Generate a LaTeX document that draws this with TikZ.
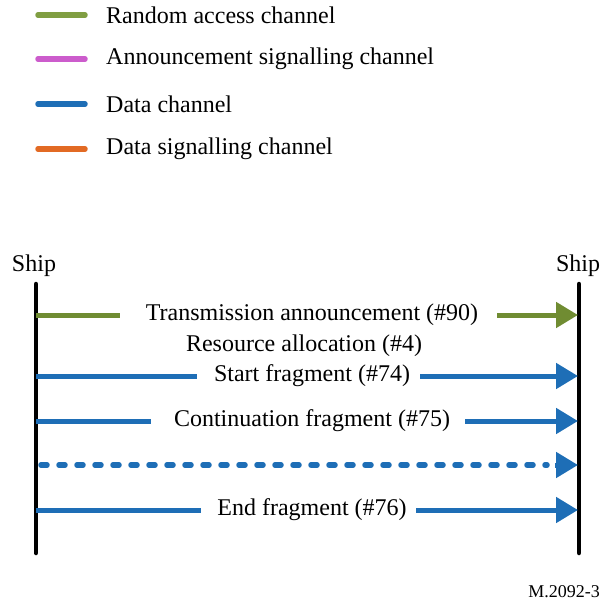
\documentclass[tikz,border=0pt]{standalone}
\usepackage{fontspec}
\setmainfont{Liberation Serif}
\usetikzlibrary{arrows.meta}

\definecolor{rachgreen}{RGB}{112,140,50}
\definecolor{legendgreen}{RGB}{128,158,66}
\definecolor{annpink}{RGB}{204,92,204}
\definecolor{datablue}{RGB}{30,110,182}
\definecolor{sigorange}{RGB}{226,106,36}

\begin{document}
\begin{tikzpicture}[x=1pt, y=-1pt,
  font=\fontsize{24}{28}\selectfont,
  lifeline/.style={line width=4.5pt, line cap=round},
  legline/.style={line width=5.5pt, line cap=round},
  legtext/.style={anchor=west, inner sep=0pt},
  msg/.style={line width=5pt},
  msgtip/.style={msg, -{Triangle[length=22pt, width=25pt]}},
  lbl/.style={inner sep=0pt, anchor=center},
  dotted msg/.style={line width=5.5pt, line cap=round, dash pattern=on 6pt off 12pt}]
\useasboundingbox (0,0) rectangle (600,604);

% legend
\foreach \c/\y/\t [count=\i] in {legendgreen/15/Random access channel,
                                  annpink/59/Announcement signalling channel,
                                  datablue/104/Data channel,
                                  sigorange/149/Data signalling channel}{
  \coordinate (lega\i) at (38,\y);
  \coordinate (legb\i) at (85,\y);
  \draw[legline, draw=\c] (lega\i) -- (legb\i);
  \node[legtext] (legt\i) at (106,\y) {\t};
}

% the two ships and their lifelines
\node (shipL) at (34,266) {Ship};
\node (shipR) at (578,266) {Ship};
\coordinate (topL) at (36,284);
\coordinate (botL) at (36,553);
\coordinate (topR) at (579,284);
\coordinate (botR) at (579,553);
\draw[lifeline] (topL) -- (botL);
\draw[lifeline] (topR) -- (botR);

% transmission announcement
\node[lbl] (m1) at (312,315) {Transmission announcement (\#90)};
\coordinate (m1a) at (36,315);  \coordinate (m1b) at (120,315);
\coordinate (m1c) at (497,315); \coordinate (m1d) at (578,315);
\draw[msg, draw=rachgreen] (m1a) -- (m1b);
\draw[msgtip, draw=rachgreen, fill=rachgreen] (m1c) -- (m1d);

\node[lbl] (m2) at (304,346) {Resource allocation (\#4)};

% start fragment
\node[lbl] (m3) at (312,376) {Start fragment (\#74)};
\coordinate (m3a) at (36,376);  \coordinate (m3b) at (197,376);
\coordinate (m3c) at (420,376); \coordinate (m3d) at (578,376);
\draw[msg, draw=datablue] (m3a) -- (m3b);
\draw[msgtip, draw=datablue, fill=datablue] (m3c) -- (m3d);

% continuation fragment
\node[lbl] (m4) at (312,421) {Continuation fragment (\#75)};
\coordinate (m4a) at (36,421);  \coordinate (m4b) at (151,421);
\coordinate (m4c) at (465,421); \coordinate (m4d) at (578,421);
\draw[msg, draw=datablue] (m4a) -- (m4b);
\draw[msgtip, draw=datablue, fill=datablue] (m4c) -- (m4d);

% further fragments: dashed run, closed by its own arrow head
\coordinate (m5a) at (41,465); \coordinate (m5b) at (547,465);
\coordinate (m5c) at (555,465); \coordinate (m5d) at (578,465);
\draw[dotted msg, draw=datablue] (m5a) -- (m5b);
\draw[msgtip, draw=datablue, fill=datablue] (m5c) -- (m5d);

% end fragment
\node[lbl] (m6) at (312,510) {End fragment (\#76)};
\coordinate (m6a) at (36,510);  \coordinate (m6b) at (201,510);
\coordinate (m6c) at (416,510); \coordinate (m6d) at (578,510);
\draw[msg, draw=datablue] (m6a) -- (m6b);
\draw[msgtip, draw=datablue, fill=datablue] (m6c) -- (m6d);

% figure number
\node[anchor=east, inner sep=0pt, font=\fontsize{18}{20}\selectfont] (fig) at (600,592) {M.2092-3};
\end{tikzpicture}
\end{document}
